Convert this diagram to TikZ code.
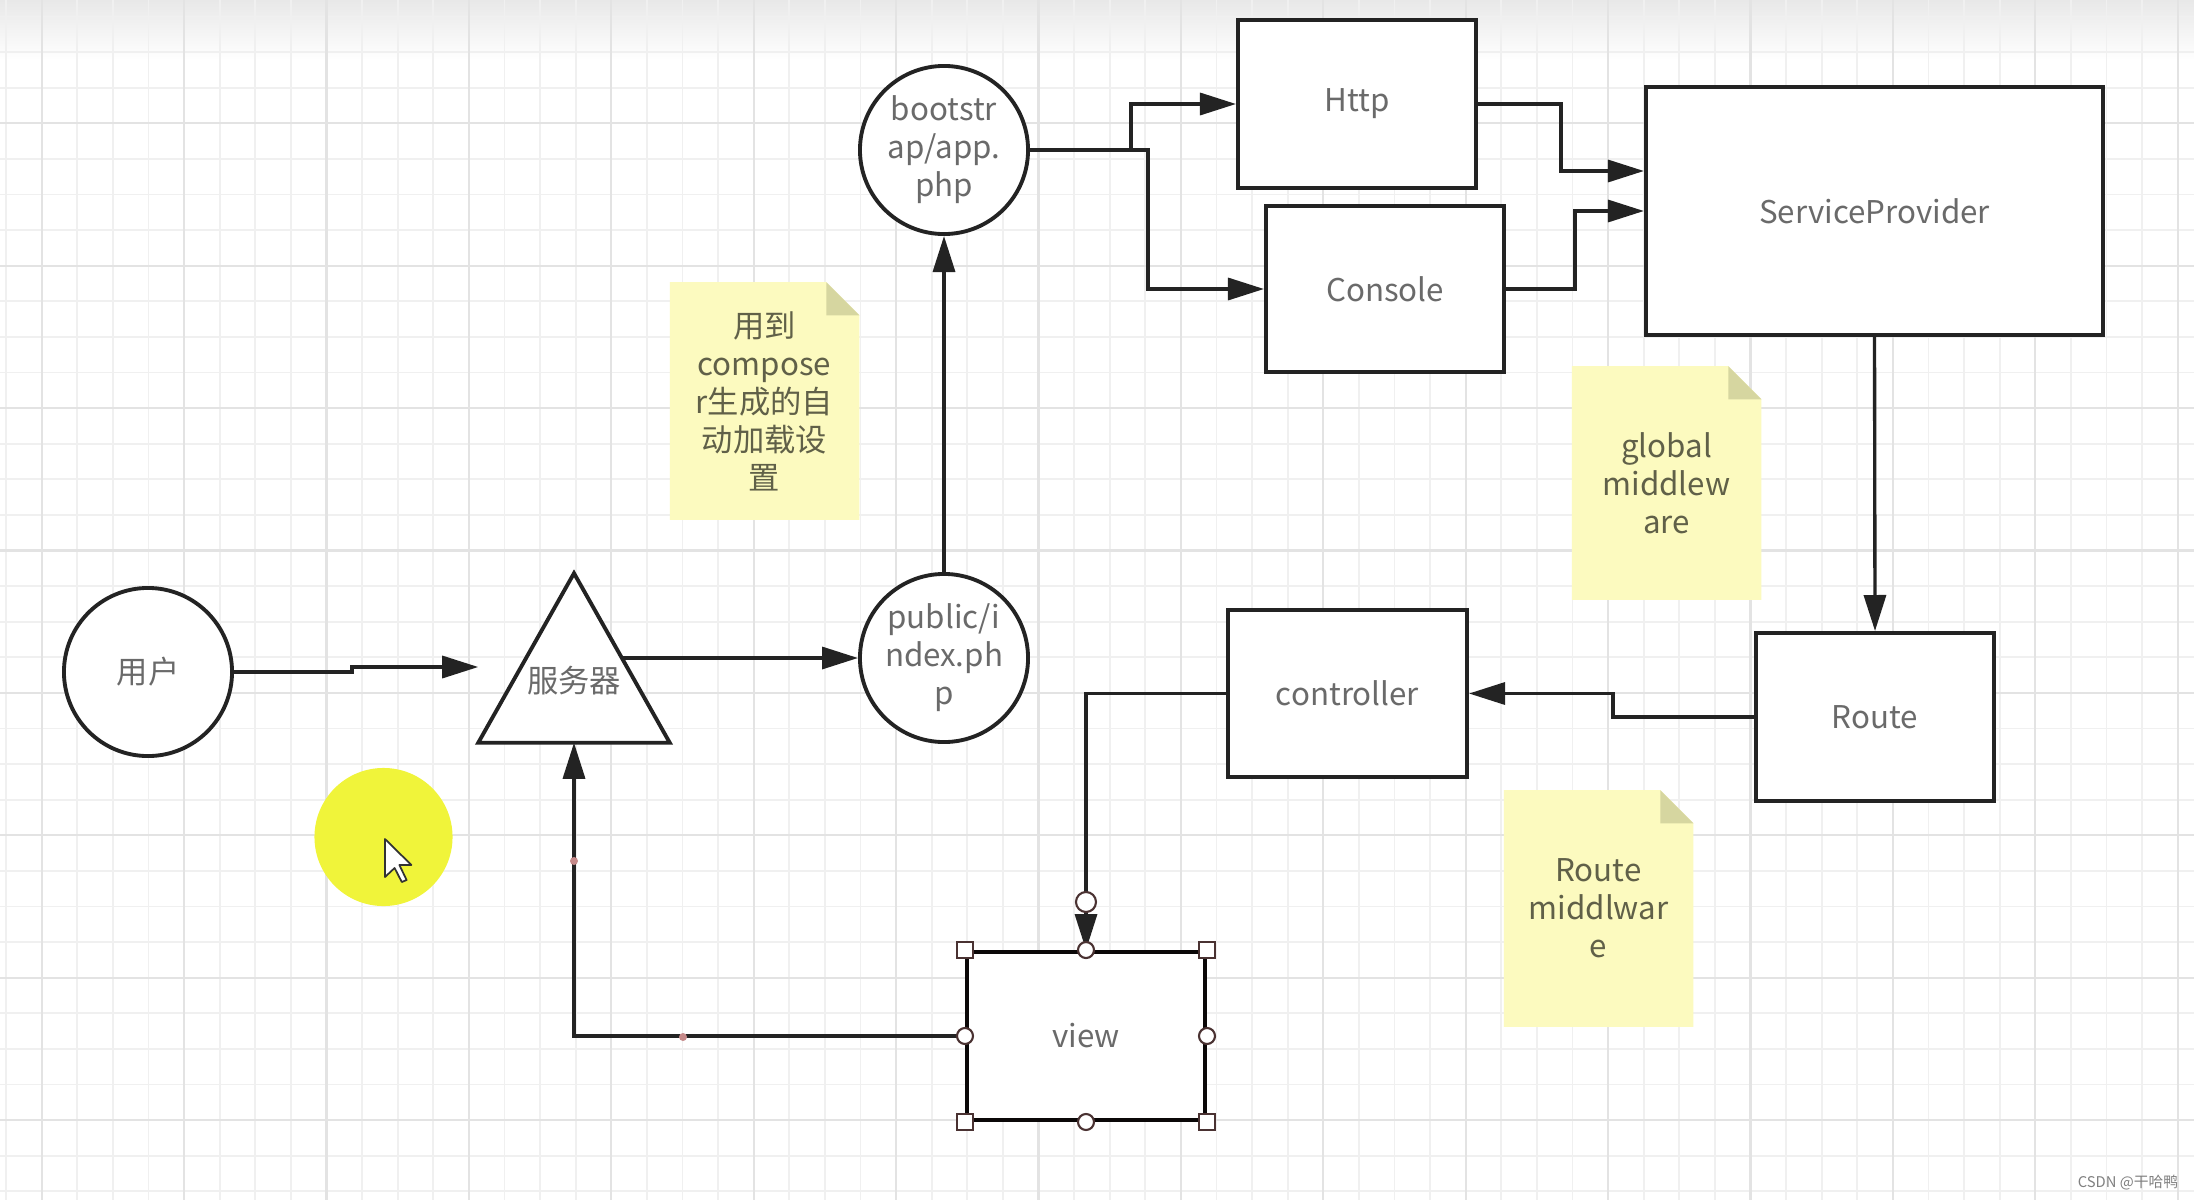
\documentclass[tikz,border=0pt]{standalone}
\usepackage{fontspec}
\setmainfont{Noto Sans CJK SC}
\usetikzlibrary{arrows.meta,calc}
\definecolor{linec}{HTML}{232323}
\definecolor{textc}{HTML}{6A6A6A}
\definecolor{notetextc}{HTML}{606048}
\definecolor{notefill}{HTML}{FCFABF}
\definecolor{foldfill}{HTML}{D6D6A0}
\definecolor{gridminor}{HTML}{F0F0F0}
\definecolor{gridmajor}{HTML}{E3E3E3}
\definecolor{handlec}{HTML}{4A3232}
\definecolor{pinkc}{HTML}{C68A8A}
\definecolor{hilite}{HTML}{F0F43A}
\newcommand\lbl{\fontsize{8.9}{10.8}\selectfont}
\newcommand\drawnote[1]{%
  \fill[notefill] (#1.north west) -- ([xshift=-0.33cm]#1.north east) -- ([yshift=-0.33cm]#1.north east) -- (#1.south east) -- (#1.south west) -- cycle;
  \fill[foldfill] ([xshift=-0.33cm]#1.north east) -- ([xshift=-0.33cm,yshift=-0.33cm]#1.north east) -- ([yshift=-0.33cm]#1.north east) -- cycle;}
\pgfdeclarelayer{gridlayer}
\pgfdeclarelayer{notelayer}
\pgfsetlayers{gridlayer,notelayer,main}
\begin{document}
\begin{tikzpicture}[x=0.01cm,y=-0.01cm,
  box/.style={rectangle, draw=linec, line width=1.1pt, fill=white, inner sep=0pt, text=textc, font=\lbl, align=center},
  circ/.style={circle, draw=linec, line width=1.1pt, fill=white, inner sep=0pt, minimum size=1.68cm, text=textc, font=\lbl, align=center},
  note/.style={rectangle, inner sep=0pt, minimum width=1.88cm, text=notetextc, font=\lbl, align=center},
  conn/.style={draw=linec, line width=0.95pt, -{Triangle[length=0.36cm,width=0.22cm]}},
  hsq/.style={rectangle, draw=handlec, fill=white, line width=0.6pt, minimum size=0.16cm, inner sep=0pt},
  hci/.style={circle, draw=handlec, fill=white, line width=0.6pt, minimum size=0.16cm, inner sep=0pt},
  dot/.style={circle, fill=pinkc, minimum size=0.08cm, inner sep=0pt}]
\useasboundingbox (0,0) rectangle (2194,1200);
% background grid
\begin{pgfonlayer}{gridlayer}
\fill[white] (0,0) rectangle (2194,1200);
\shade[top color=black!9, bottom color=white] (0,0) rectangle (2194,60);
\foreach \i in {-1,...,61} {\draw[gridminor, line width=0.5pt] ({41.7+35.6*\i},0) -- ({41.7+35.6*\i},1200);}
\foreach \j in {-3,...,30} {\draw[gridminor, line width=0.5pt] (0,{123.3+35.6*\j}) -- (2194,{123.3+35.6*\j});}
\foreach \i in {0,...,15} {\draw[gridmajor, line width=0.6pt] ({41.7+142.4*\i},0) -- ({41.7+142.4*\i},1200);}
\foreach \j in {0,...,7} {\draw[gridmajor, line width=0.6pt] (0,{123.3+142.4*\j}) -- (2194,{123.3+142.4*\j});}
\end{pgfonlayer}

% notes
\node[note, minimum height=2.36cm] (n1) at (764.5,401) {用到\\compose\\r生成的自\\动加载设\\置};
\node[note, minimum height=2.32cm] (n2) at (1666.5,483) {global\\middlew\\are};
\node[note, minimum height=2.35cm] (n3) at (1598.5,908.5) {Route\\middlwar\\e};
\begin{pgfonlayer}{notelayer}
\drawnote{n1}
\drawnote{n2}
\drawnote{n3}
\end{pgfonlayer}

% cursor highlight
\node[circle, fill=hilite, minimum size=1.38cm, inner sep=0pt] (hl) at (383.5,837) {};
\draw[fill=white, draw=black!80, line width=0.5pt, line join=round] (385,839) -- (385,877) -- (394.6,868) -- (401.8,882) -- (406.6,880) -- (399.4,865) -- (411.4,865) -- cycle;

% nodes
\node[circ] (user) at (148,672) {用户};
\node[minimum width=1.9cm, minimum height=1.68cm, inner sep=0pt] (srv) at (574,658) {};
\draw[linec, line width=1.1pt, fill=white, line join=miter] (srv.south west) -- (srv.north) -- (srv.south east) -- cycle;
\node[text=textc, font=\lbl] (srvlbl) at (574,681) {服务器};
\node[circ] (pub) at (944,658) {public/i\\ndex.ph\\p};
\node[circ] (boot) at (944,150) {bootstr\\ap/app.\\php};
\node[box, minimum width=2.38cm, minimum height=1.68cm] (http) at (1357,104) {Http};
\node[box, minimum width=2.38cm, minimum height=1.66cm] (console) at (1385,289) {Console};
\node[box, minimum width=4.57cm, minimum height=2.48cm] (sp) at (1874.5,211) {ServiceProvider};
\node[box, minimum width=2.38cm, minimum height=1.68cm] (route) at (1875,717) {Route};
\node[box, minimum width=2.39cm, minimum height=1.67cm] (ctrl) at (1347.5,693.5) {controller};
\node[box, draw=black!85!handlec, minimum width=2.38cm, minimum height=1.68cm] (view) at (1086,1036) {view};

% connectors
\draw[conn] (user.east) -- (352,672) -- (352,667) -- ($(srv.west)+(0,9)$);
\draw[conn] ($(srv.center)+(48,0)$) -- (pub.west);
\draw[conn] (pub.north) -- (boot.south);
\draw[conn] (boot.east) -- (1131,150) |- (http.west);
\draw[conn] (boot.east) -- (1148,150) |- (console.west);
\draw[conn] (http.east) -- (1561,104) |- ($(sp.west)+(0,-40)$);
\draw[conn] (console.east) -- (1575,289) |- (sp.west);
\draw[conn] (sp.south) -- (route.north);
\draw[conn] (route.west) -- (1613,717) |- (ctrl.east);
\draw[conn] (ctrl.west) -| (view.north);
\draw[conn] (view.west) -| (srv.south);

% selection handles
\node[hci, minimum size=0.2cm] (vend) at (1086,902) {};
\node[hsq] (vnw) at (view.north west) {};
\node[hsq] (vne) at (view.north east) {};
\node[hsq] (vsw) at (view.south west) {};
\node[hsq] (vse) at (view.south east) {};
\node[hci] (vn) at (view.north) {};
\node[hci] (vs) at (view.south) {};
\node[hci] (vw) at (view.west) {};
\node[hci] (ve) at (view.east) {};
\node[dot] (d1) at (574,861) {};
\node[dot] (d2) at (683,1037) {};

% watermark
\node[text=black!50, font=\fontsize{4.2}{5}\selectfont] (wm) at (2128,1183) {CSDN @干哈鸭};
\end{tikzpicture}
\end{document}
